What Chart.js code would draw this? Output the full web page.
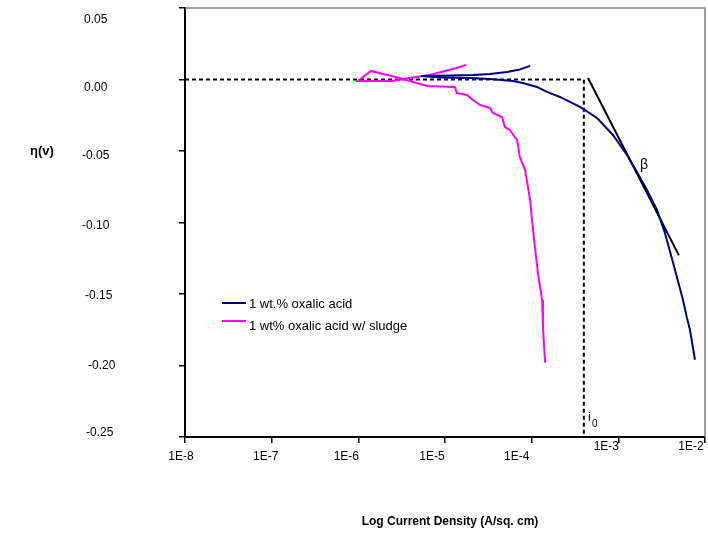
<!DOCTYPE html>
<html>
<head>
<meta charset="utf-8">
<script src="https://cdn.jsdelivr.net/npm/chart.js@4/dist/chart.umd.min.js"></script>
<style>
  html, body { margin: 0; padding: 0; background: #fff; }
  #chartContainer { width: 708px; height: 539px; }
</style>
</head>
<body>
<div id="chartContainer"><canvas id="main-chart" width="708" height="539"></canvas></div>
<script>
// current density (A/sq. cm) and overpotential (V)
let oxalicX = [9.6e-5, 7.3e-5, 5.2e-5, 3.3e-5, 2.1e-5, 1.14e-5, 5.3e-6,
    8.8e-6, 1.94e-5, 3.3e-5, 6.1e-5, 7.9e-5, 1.15e-4, 1.5e-4, 2.12e-4, 3.61e-4,
    5.68e-4, 8.67e-4, 1.26e-3, 1.64e-3, 2.14e-3, 2.79e-3, 3.45e-3, 4.28e-3,
    5.57e-3, 6.19e-3, 6.71e-3, 7.66e-3]
let oxalicY = [0.0095, 0.0070, 0.0053, 0.0039, 0.0032, 0.0028, 0.0025,
    0.0014, 0.0011, 0.0004, -0.0010, -0.0024, -0.0052, -0.0087, -0.0122, -0.0192,
    -0.0269, -0.0388, -0.0528, -0.0646, -0.0772, -0.0912, -0.1073, -0.1282,
    -0.1541, -0.1667, -0.1751, -0.1960]

let sludgeX = [1.75e-5, 1.37e-5, 1.0e-5, 6.7e-6, 3.9e-6, 2.5e-6, 9.9e-7,
    1.4e-6, 3.0e-6, 6.2e-6, 1.3e-5, 1.37e-5, 1.8e-5, 2.1e-5, 2.54e-5, 3.3e-5,
    3.58e-5, 4.55e-5, 4.92e-5, 5.6e-5, 6.4e-5, 6.8e-5, 7.3e-5, 8.4e-5, 9.6e-5,
    1.01e-4, 1.09e-4, 1.18e-4, 1.32e-4, 1.35e-4, 1.43e-4]
let sludgeY = [0.0102, 0.0081, 0.0060, 0.0032, 0.0011, -0.0010, -0.0010,
    0.0060, 0.0011, -0.0045, -0.0052, -0.0094, -0.0108, -0.0143, -0.0178, -0.0199,
    -0.0234, -0.0262, -0.0332, -0.0353, -0.0402, -0.0423, -0.0542, -0.0632, -0.0842,
    -0.0982, -0.1171, -0.1352, -0.1541, -0.1730, -0.1981]

// exchange current construction lines
let i0X = [1e-8, 4.0e-4, 4.0e-4]
let i0Y = [0, 0, -0.25]
let tafelX = [4.47e-4, 5.0e-3]
let tafelY = [0.001, -0.123]

let xTicks = [1e-8, 1e-7, 1e-6, 1e-5, 1e-4, 1e-3, 1e-2]
let yTicks = [0.05, 0, -0.05, -0.10, -0.15, -0.20, -0.25]

let seriesNames = ['1 wt.% oxalic acid', '1 wt% oxalic acid w/ sludge']
let seriesColors = ['#000080', '#FF00FF']

let betaPos = [1.78e-3, -0.0598]
let i0Pos = [4.47e-4, -0.2366]

// the original tick labels sit a little off their ticks
let xLabelShift = [[-4, 20], [-6, 20], [-12, 20], [-13, 20], [-15, 20], [-12, 10], [-14, 10]]
let yLabelShift = [[84, 12], [84, 8], [82, 5], [82, 3], [85, 2], [88, 0], [86, -4]]

function toPoints(xs, ys) {
    return xs.map((x, i) => ({x: x, y: ys[i]}))
}

const FONT = '"Liberation Sans", Arial, sans-serif'

// frame, tick labels, legend, titles and annotations
const extras = {
    id: 'extras',
    beforeDatasetsDraw(chart) {
        let ctx = chart.ctx
        let a = chart.chartArea
        ctx.save()
        ctx.strokeStyle = '#808080'
        ctx.lineWidth = 1.5
        ctx.beginPath()
        ctx.moveTo(a.left, a.top)
        ctx.lineTo(a.right, a.top)
        ctx.lineTo(a.right, a.bottom)
        ctx.stroke()
        ctx.restore()
    },
    afterDraw(chart) {
        let ctx = chart.ctx
        let xs = chart.scales.x
        let ys = chart.scales.y
        ctx.save()
        ctx.fillStyle = '#000'
        ctx.textBaseline = 'middle'

        // tick labels
        ctx.font = '12px ' + FONT
        ctx.textAlign = 'center'
        xTicks.forEach((v, i) => {
            let s = xLabelShift[i]
            ctx.fillText('1E' + Math.round(Math.log10(v)), xs.getPixelForValue(v) + s[0], xs.top + s[1])
        })
        ctx.textAlign = 'left'
        yTicks.forEach((v, i) => {
            let s = yLabelShift[i]
            ctx.fillText((Math.abs(v) < 1e-9 ? 0 : v).toFixed(2), s[0], ys.getPixelForValue(v) + s[1])
        })

        // legend
        ctx.font = '13px ' + FONT
        let legY = [303, 321]
        let txtY = [304, 326]
        seriesNames.forEach((name, i) => {
            ctx.strokeStyle = seriesColors[i]
            ctx.lineWidth = 2
            ctx.beginPath()
            ctx.moveTo(222, legY[i])
            ctx.lineTo(246, legY[i])
            ctx.stroke()
            ctx.textAlign = 'left'
            ctx.fillText(name, 249, txtY[i])
        })

        // axis titles
        ctx.font = 'bold 13px ' + FONT
        ctx.textAlign = 'left'
        ctx.fillText('\u03B7(v)', 30, 151)
        ctx.font = 'bold 12px ' + FONT
        ctx.textAlign = 'center'
        ctx.fillText('Log Current Density (A/sq. cm)', 450, 522)

        // beta and i0
        ctx.font = '14px ' + FONT
        ctx.textAlign = 'left'
        ctx.fillText('\u03B2', xs.getPixelForValue(betaPos[0]), ys.getPixelForValue(betaPos[1]))
        let ix = xs.getPixelForValue(i0Pos[0])
        let iy = ys.getPixelForValue(i0Pos[1])
        ctx.font = '13px ' + FONT
        ctx.fillText('i', ix, iy)
        ctx.font = '10px ' + FONT
        ctx.fillText('0', ix + 4, iy + 6)
        ctx.restore()
    }
}

new Chart(document.getElementById('main-chart'), {
    type: 'scatter',
    data: {
        datasets: [{
            label: seriesNames[0],
            data: toPoints(oxalicX, oxalicY),
            borderColor: seriesColors[0],
            borderWidth: 2,
            showLine: true,
            pointRadius: 0
        }, {
            label: seriesNames[1],
            data: toPoints(sludgeX, sludgeY),
            borderColor: seriesColors[1],
            borderWidth: 2,
            showLine: true,
            pointRadius: 0
        }, {
            label: 'i0',
            data: toPoints(i0X, i0Y),
            borderColor: '#000',
            borderWidth: 2,
            borderDash: [4, 3],
            showLine: true,
            pointRadius: 0
        }, {
            label: 'beta',
            data: toPoints(tafelX, tafelY),
            borderColor: '#000',
            borderWidth: 2,
            showLine: true,
            pointRadius: 0
        }]
    },
    options: {
        responsive: false,
        animation: false,
        devicePixelRatio: 1,
        layout: { padding: { left: 0, right: 3, top: 8, bottom: 0 } },
        plugins: {
            legend: { display: false },
            tooltip: { enabled: false }
        },
        scales: {
            x: {
                type: 'logarithmic',
                min: 1e-8,
                max: 1e-2,
                afterBuildTicks: scale => { scale.ticks = xTicks.map(v => ({value: v})) },
                afterFit: scale => {
                    scale.height = 102
                    scale.paddingLeft = 0
                    scale.paddingRight = 0
                },
                border: { color: '#000', width: 2 },
                grid: { drawOnChartArea: false, color: '#000', lineWidth: 1.5, tickLength: 6 },
                ticks: { display: false, autoSkip: false, maxRotation: 0 }
            },
            y: {
                min: -0.25,
                max: 0.05,
                afterBuildTicks: scale => { scale.ticks = yTicks.map(v => ({value: v})) },
                afterFit: scale => {
                    scale.width = 185
                    scale.paddingTop = 0
                    scale.paddingBottom = 0
                },
                border: { color: '#000', width: 2 },
                grid: { drawOnChartArea: false, color: '#000', lineWidth: 1.5, tickLength: 6 },
                ticks: { display: false }
            }
        }
    },
    plugins: [extras]
})
</script>
</body>
</html>
